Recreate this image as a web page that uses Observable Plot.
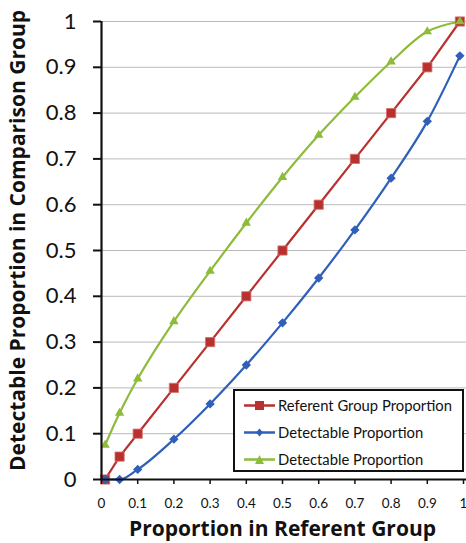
<!DOCTYPE html>
<html><head><meta charset="utf-8">
<script src="https://cdn.jsdelivr.net/npm/d3@7"></script>
<script src="https://cdn.jsdelivr.net/npm/@observablehq/plot@0.6"></script>
<style>
body{margin:0;background:#fff;}
#wrap{position:relative;width:466px;height:543px;font-family:Lato,"Open Sans",sans-serif;}
#legend{position:absolute;left:233px;top:389px;width:231px;height:83px;border:2px solid #111;background:#fff;box-sizing:border-box;font-size:14.8px;color:#111;}
#legend .row{position:absolute;left:9px;height:20px;display:flex;align-items:center;}
#legend svg{margin-right:3px;}
</style></head>
<body><div id="wrap"><div id="legend"></div></div>
<script>
const xVals = [0.01,0.05,0.1,0.2,0.3,0.4,0.5,0.6,0.7,0.8,0.9,0.99];
const referent = [0,0.05,0.1,0.2,0.3,0.4,0.5,0.6,0.7,0.8,0.9,1.0];
const detectLow = [0,0,0.022,0.088,0.165,0.25,0.342,0.44,0.545,0.658,0.782,0.925];
const detectHigh = [0.075,0.145,0.22,0.345,0.455,0.56,0.66,0.752,0.835,0.912,0.978,1.0];
const yTicks = [0,0.1,0.2,0.3,0.4,0.5,0.6,0.7,0.8,0.9,1];
const xTicks = [0,0.1,0.2,0.3,0.4,0.5,0.6,0.7,0.8,0.9,1];
const seriesNames = ["Referent Group Proportion","Detectable Proportion","Detectable Proportion"];
const colors = ["#b8312f","#2f5fb8","#8dbb3a"];

const red = xVals.map((x,i)=>({x,y:referent[i]}));
const blue = xVals.map((x,i)=>({x,y:detectLow[i]}));
const green = xVals.map((x,i)=>({x,y:detectHigh[i]}));

const chart = Plot.plot({
  width:466, height:543,
  marginLeft:101, marginRight:3, marginTop:21, marginBottom:64,
  style:{fontFamily:"Lato, 'Open Sans', sans-serif", color:"#111", background:"#fff", overflow:"visible"},
  x:{domain:[0,1], ticks:xTicks, label:null},
  y:{domain:[0,1], ticks:yTicks, label:null},
  marks:[
    Plot.ruleY(yTicks.slice(1),{stroke:"#bbb", strokeWidth:1, insetRight:-3}),
    Plot.line(red,{x:"x",y:"y",stroke:colors[0],strokeWidth:2.2}),
    Plot.line(blue,{x:"x",y:"y",stroke:colors[1],strokeWidth:2.2,curve:"monotone-x"}),
    Plot.line(green,{x:"x",y:"y",stroke:colors[2],strokeWidth:2.2,curve:"catmull-rom"}),
    Plot.dot(red,{x:"x",y:"y",symbol:"square",r:5.2,fill:colors[0],stroke:"#d9706b",strokeWidth:0.8}),
    Plot.dot(blue,{x:"x",y:"y",symbol:"diamond2",r:4.2,fill:colors[1],stroke:"none"}),
    Plot.dot(green,{x:"x",y:"y",symbol:"triangle2",r:4.5,fill:colors[2],stroke:"none"}),
    Plot.ruleX([0],{stroke:"#111",strokeWidth:2.2}),
    Plot.ruleY([0],{stroke:"#111",strokeWidth:2.2, insetRight:-3}),
    Plot.axisY(yTicks,{tickSize:8,tickPadding:17,fontSize:22,tickFormat:d=>String(d),strokeWidth:2}),
    Plot.axisX(xTicks,{tickSize:5,tickPadding:14,fontSize:13.5,tickFormat:d=>String(d),strokeWidth:1.5}),
    Plot.text(["Proportion in Referent Group"],{frameAnchor:"bottom",dy:56,fontSize:21,fontWeight:"bold",fontFamily:"'Open Sans', sans-serif",fill:"#111"}),
    Plot.text(["Detectable Proportion in Comparison Group"],{frameAnchor:"left",textAnchor:"middle",dx:-83,dy:-10,rotate:-90,fontSize:21,fontWeight:"bold",fontFamily:"'Open Sans', sans-serif",fill:"#111"})
  ]
});
document.getElementById("wrap").prepend(chart);

const leg = document.getElementById("legend");
const syms = ["square","diamond","triangle"];
seriesNames.forEach((name,i)=>{
  const row = document.createElement("div");
  row.className="row";
  row.style.top = (4 + i*27) + "px";
  let marker;
  if(syms[i]==="square") marker = `<rect x="11" y="5" width="9" height="9" fill="${colors[i]}"/>`;
  else if(syms[i]==="diamond") marker = `<path d="M15.5 5.5 L19 9.5 L15.5 13.5 L12 9.5Z" fill="${colors[i]}"/>`;
  else marker = `<path d="M15.5 5 L20 14 L11 14Z" fill="${colors[i]}"/>`;
  row.innerHTML = `<svg width="31" height="19"><line x1="0" x2="31" y1="9.5" y2="9.5" stroke="${colors[i]}" stroke-width="2.5"/>${marker}</svg><span>${name}</span>`;
  leg.appendChild(row);
});
</script></body></html>
